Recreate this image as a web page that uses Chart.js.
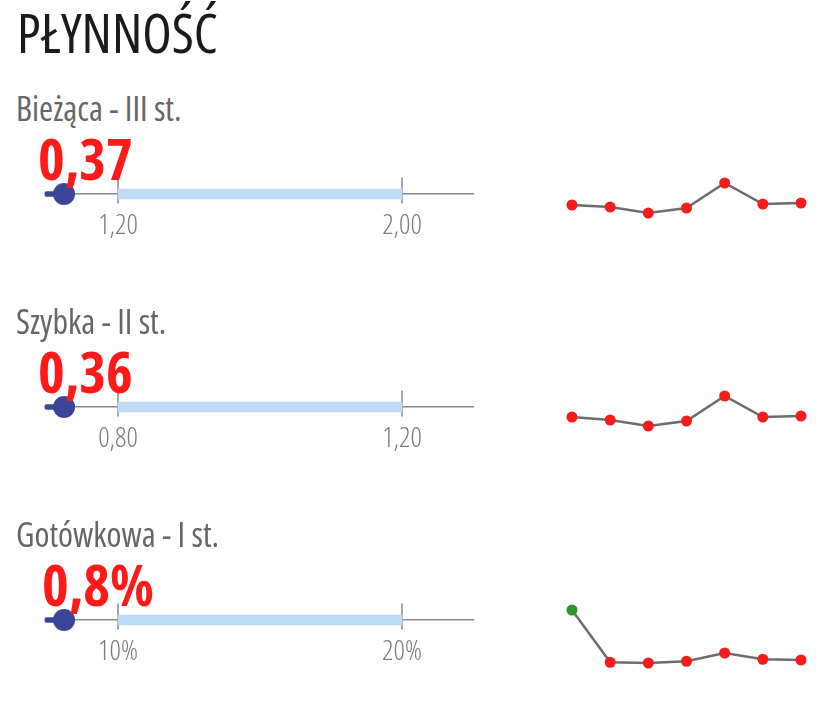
<!DOCTYPE html>
<html lang="pl">
<head>
  <meta charset="UTF-8">
  <title>Płynność</title>
  <script src="https://cdn.jsdelivr.net/npm/chart.js"></script>
  <style>
    body { margin: 0; background: #fff; }
    #page { position: relative; width: 816px; height: 724px; overflow: hidden;
            font-family: 'Open Sans', sans-serif; font-stretch: 75%; }
    h1 { position: absolute; left: 17px; top: 5px; margin: 0; font-size: 54px; font-weight: 400;
         line-height: 1; color: #1b1b1b; white-space: nowrap; }
    .row { position: absolute; left: 0; width: 816px; height: 213px; }
    .label { position: absolute; left: 16px; top: 91px; font-size: 34px; line-height: 1; color: #666;
             white-space: nowrap; }
    .value { position: absolute; top: 130px; font-size: 57px; font-weight: 700; line-height: 1;
             color: #ff1a1a; z-index: 2; white-space: nowrap; }
    .bullet { position: absolute; left: 0; top: 100px; }
    .spark { position: absolute; left: 555px; top: 150px; }
  </style>
</head>
<body>

  <div id="page">
    <h1>PŁYNNOŚĆ</h1>
  </div>

  <script>
    const rowLabels = ['Bieżąca - III st.', 'Szybka - II st.', 'Gotówkowa - I st.'];
    const currentValues = [0.37, 0.36, 0.8];
    const normLow = [1.2, 0.8, 10];
    const normHigh = [2.0, 1.2, 20];
    const tickLabels = [['1,20', '2,00'], ['0,80', '1,20'], ['10%', '20%']];
    const periods = ['1', '2', '3', '4', '5', '6', '7'];
    const history1 = [0.36, 0.35, 0.32, 0.345, 0.47, 0.365, 0.37];
    const history2 = [0.355, 0.34, 0.31, 0.335, 0.46, 0.355, 0.36];
    const history3 = [10.8, 0.35, 0.2, 0.55, 2.2, 0.95, 0.8];
    const histories = [history1, history2, history3];

    // visible range of each sparkline
    const sparkMin = [0.185, 0.175, -0.4];
    const sparkMax = [0.585, 0.575, 15.6];

    const BLUE = '#3a4597';
    const RED = '#f51c1c';
    const GREEN = '#2f962f';
    const GREY = '#8a8a8a';

    function formatValue(v, i) {
      return i === 2 ? v.toFixed(1).replace('.', ',') + '%' : v.toFixed(2).replace('.', ',');
    }

    const page = document.getElementById('page');

    rowLabels.forEach((label, i) => {
      const row = document.createElement('div');
      row.className = 'row';
      row.style.top = (i * 213) + 'px';
      row.innerHTML =
        '<div class="label">' + label + '</div>' +
        '<div class="value" style="left:' + (i === 2 ? 42 : 38) + 'px">' + formatValue(currentValues[i], i) + '</div>' +
        '<canvas class="bullet" width="490" height="140"></canvas>' +
        '<canvas class="spark" width="261" height="100"></canvas>';
      page.appendChild(row);

      const low = normLow[i], high = normHigh[i];
      const min = low - (high - low) / 4;
      const max = high + (high - low) / 4;
      // marker is kept just inside the left end of the axis
      const markerPos = Math.max(currentValues[i], min + (max - min) * 0.04);

      new Chart(row.querySelector('.bullet'), {
        type: 'bar',
        data: {
          datasets: [
            { type: 'scatter', data: [{ x: markerPos, y: 0 }], pointRadius: 11,
              pointBackgroundColor: BLUE, pointBorderWidth: 0, clip: false, order: 0 },
            { data: [{ x: [min - (max - min) * 0.005, markerPos], y: 0 }], backgroundColor: BLUE,
              barThickness: 5, borderRadius: 2, borderSkipped: false, grouped: false, clip: false, order: 1 },
            { data: [{ x: [low, high], y: 0 }], backgroundColor: '#bedcf8',
              barThickness: 10, grouped: false, clip: false, order: 2 },
            // norm boundary marks
            { type: 'scatter', data: [{ x: low, y: 4 }, { x: high, y: 4 }], pointStyle: 'line',
              rotation: 90, pointRadius: 13, pointBorderColor: GREY, pointBorderWidth: 1.5,
              clip: false, order: 3 }
          ]
        },
        options: {
          indexAxis: 'y',
          responsive: false,
          animation: false,
          events: [],
          layout: { padding: { left: 47, right: 17, top: 0, bottom: 1 } },
          plugins: { legend: { display: false }, tooltip: { enabled: false } },
          scales: {
            x: {
              type: 'linear', min: min, max: max,
              afterBuildTicks: (scale) => { scale.ticks = [{ value: low }, { value: high }]; },
              afterFit: (scale) => { scale.height = 45; },
              grid: { display: false },
              border: { display: true, color: GREY, width: 1.5 },
              ticks: {
                autoSkip: false, maxRotation: 0, padding: 10, color: '#7c7c7c',
                font: { family: "'Open Sans', sans-serif", size: 28, weight: '300 condensed', lineHeight: 1 },
                callback: (v, idx) => tickLabels[i][idx]
              }
            },
            y: { type: 'linear', min: 0, max: 94, display: false, offset: false }
          }
        }
      });

      new Chart(row.querySelector('.spark'), {
        type: 'line',
        data: {
          labels: periods,
          datasets: [{
            data: histories[i],
            borderColor: '#6c6c6c',
            borderWidth: 2.5,
            tension: 0,
            pointRadius: 5.5,
            pointBorderWidth: 0,
            pointBackgroundColor: (ctx) => ctx.raw >= low ? GREEN : RED,
            clip: false
          }]
        },
        options: {
          responsive: false,
          animation: false,
          events: [],
          layout: { padding: { left: 17, right: 15, top: 10, bottom: 10 } },
          plugins: { legend: { display: false }, tooltip: { enabled: false } },
          scales: {
            x: { display: false, offset: false },
            y: { display: false, min: sparkMin[i], max: sparkMax[i] }
          }
        }
      });
    });
  </script>

</body>
</html>
